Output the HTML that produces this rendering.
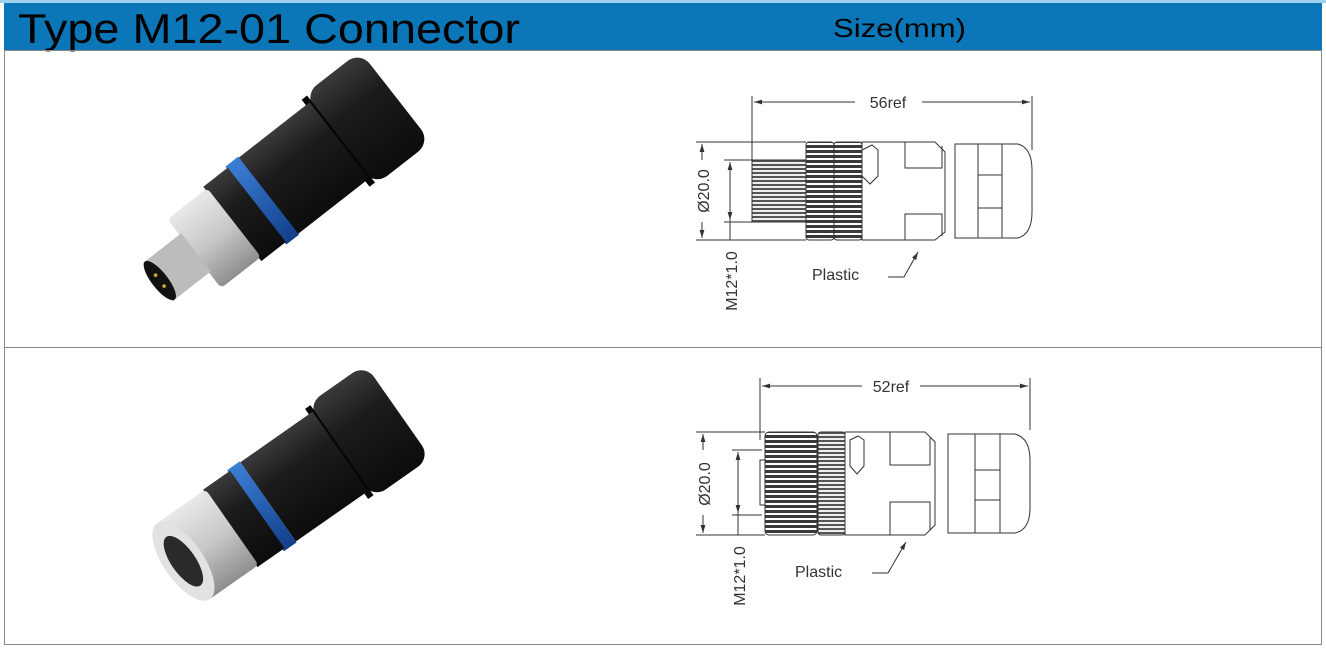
<!DOCTYPE html>
<html><head><meta charset="utf-8"><style>
html,body{margin:0;padding:0;background:#fff;}
body{width:1326px;height:650px;overflow:hidden;font-family:"Liberation Sans",sans-serif;}
</style></head><body>
<svg width="1326" height="650" viewBox="0 0 1326 650" xmlns="http://www.w3.org/2000/svg">
<defs>
<linearGradient id="blk" x1="0" y1="0" x2="0" y2="1"><stop offset="0" stop-color="#3a3a3c"/><stop offset="0.35" stop-color="#1c1c1e"/><stop offset="1" stop-color="#0c0c0c"/></linearGradient>
<linearGradient id="sil" x1="0" y1="0" x2="0" y2="1"><stop offset="0" stop-color="#e8e8e8"/><stop offset="0.5" stop-color="#c8c8c8"/><stop offset="1" stop-color="#8e8e8e"/></linearGradient>
<linearGradient id="blu" x1="0" y1="0" x2="0" y2="1"><stop offset="0" stop-color="#3c7fd6"/><stop offset="1" stop-color="#123f8a"/></linearGradient>
<pattern id="kn" width="6" height="4" patternUnits="userSpaceOnUse"><rect width="6" height="4" fill="#eee"/><rect y="0" width="6" height="2" fill="#555"/></pattern>
<pattern id="kn2" width="6" height="5" patternUnits="userSpaceOnUse"><rect width="6" height="5" fill="#fff"/><rect y="0" width="6" height="3" fill="#3a3a3a"/></pattern>
<marker id="ar" viewBox="0 0 10 10" refX="10" refY="5" markerWidth="8" markerHeight="8" orient="auto-start-reverse"><path d="M0,2 L10,5 L0,8 z" fill="#333"/></marker>
</defs>
<rect x="0" y="0" width="1326" height="3" fill="#9fd0ee"/>
<rect x="4" y="3" width="1318" height="47" fill="#0b77b8"/>
<text x="18" y="43" font-size="42" fill="#000" textLength="502" lengthAdjust="spacingAndGlyphs">Type M12-01 Connector</text>
<text x="833" y="37" font-size="26" fill="#000" textLength="133" lengthAdjust="spacingAndGlyphs">Size(mm)</text>
<rect x="4.5" y="50.5" width="1317" height="594" fill="none" stroke="#888" stroke-width="1"/>
<line x1="4" y1="347.5" x2="1322" y2="347.5" stroke="#888"/>

<g transform="translate(158,282) rotate(-38) scale(1.15)">
 <rect x="200" y="-50" width="62" height="100" rx="14" fill="url(#blk)"/>
 <rect x="196" y="-48" width="6" height="96" fill="#060606"/>
 <rect x="120" y="-42" width="80" height="84" fill="url(#blk)"/>
 <rect x="108" y="-43" width="14" height="86" fill="url(#blu)"/>
 <rect x="82" y="-41" width="27" height="82" fill="url(#blk)"/>
 <rect x="40" y="-38" width="44" height="76" rx="4" fill="url(#sil)"/>
 <rect x="0" y="-21" width="42" height="42" fill="#bcbcbc"/>
 <ellipse cx="2" cy="0" rx="7" ry="21" fill="#111"/>
 <circle cx="2" cy="-6" r="1.6" fill="#d4a830"/><circle cx="2" cy="6" r="1.6" fill="#d4a830"/>
</g>
<g transform="translate(178,565) rotate(-35) scale(1.1)">
 <rect x="180" y="-52" width="64" height="104" rx="14" fill="url(#blk)"/>
 <rect x="176" y="-50" width="6" height="100" fill="#060606"/>
 <rect x="100" y="-44" width="80" height="88" fill="url(#blk)"/>
 <rect x="86" y="-45" width="14" height="90" fill="url(#blu)"/>
 <rect x="58" y="-43" width="30" height="86" fill="url(#blk)"/>
 <rect x="4" y="-42" width="56" height="84" rx="4" fill="url(#sil)"/>
 <ellipse cx="6" cy="0" rx="18" ry="42" fill="#e2e2e2"/>
 <ellipse cx="6" cy="0" rx="11" ry="27" fill="#2a2a2a"/>
</g>

<g stroke="#333" fill="none" stroke-width="1">
 <line x1="752" y1="96" x2="752" y2="160"/><line x1="1032" y1="96" x2="1032" y2="150"/>
 <line x1="754" y1="102" x2="855" y2="102" marker-start="url(#ar)"/><line x1="922" y1="102" x2="1030" y2="102" marker-end="url(#ar)"/>
 <line x1="696" y1="142" x2="806" y2="142"/><line x1="696" y1="240" x2="806" y2="240"/>
 <line x1="702" y1="144" x2="702" y2="160" marker-start="url(#ar)"/><line x1="702" y1="222" x2="702" y2="238" marker-end="url(#ar)"/>
 <line x1="724" y1="160" x2="760" y2="160"/><line x1="724" y1="222" x2="760" y2="222"/>
 <line x1="730" y1="162" x2="730" y2="220" marker-start="url(#ar)" marker-end="url(#ar)"/>
 <line x1="730" y1="220" x2="730" y2="240"/>
 <rect x="752" y="160" width="54" height="62" fill="url(#kn)"/>
 <rect x="806" y="142" width="28" height="98" rx="3" fill="url(#kn2)"/>
 <rect x="834" y="142" width="28" height="98" rx="3" fill="url(#kn2)"/>
 <path d="M862 142 H935 L945 152 V232 L935 240 H862 Z" fill="#fff"/>
 <path d="M862 150 L872 145 L878 150 V176 L870 184 L862 176 Z" fill="#fff"/>
 <path d="M905 142 V168 H942 V146"/><path d="M905 240 V214 H942 V236"/>
 <path d="M955 144 H1018 Q1032 148 1032 170 V212 Q1032 234 1018 238 H955 Z" fill="#fff"/>
 <line x1="978" y1="144" x2="978" y2="238"/><line x1="1002" y1="144" x2="1002" y2="238"/>
 <line x1="978" y1="175" x2="1002" y2="175"/><line x1="978" y1="208" x2="1002" y2="208"/>
 <path d="M888 277 H904 L918 252" marker-end="url(#ar)"/>
</g>
<text x="812" y="280" font-size="16" fill="#333">Plastic</text>
<text transform="translate(709,191) rotate(-90)" text-anchor="middle" font-size="16" fill="#333">Ø20.0</text>
<text transform="translate(737,281) rotate(-90)" text-anchor="middle" font-size="16" fill="#333">M12*1.0</text>
<text x="888" y="108" text-anchor="middle" font-size="16" fill="#333">56ref</text>

<g stroke="#333" fill="none" stroke-width="1">
 <line x1="760" y1="378" x2="760" y2="440"/><line x1="1030" y1="378" x2="1030" y2="430"/>
 <line x1="762" y1="386" x2="862" y2="386" marker-start="url(#ar)"/><line x1="920" y1="386" x2="1028" y2="386" marker-end="url(#ar)"/>
 <line x1="696" y1="432" x2="765" y2="432"/><line x1="696" y1="535" x2="765" y2="535"/>
 <line x1="703" y1="434" x2="703" y2="450" marker-start="url(#ar)"/><line x1="703" y1="515" x2="703" y2="533" marker-end="url(#ar)"/>
 <line x1="732" y1="450" x2="762" y2="450"/><line x1="732" y1="515" x2="762" y2="515"/>
 <line x1="738" y1="452" x2="738" y2="513" marker-start="url(#ar)" marker-end="url(#ar)"/>
 <line x1="738" y1="513" x2="738" y2="535"/>
 <rect x="760" y="460" width="6" height="45" fill="#fff"/>
 <rect x="765" y="432" width="52" height="103" rx="4" fill="url(#kn2)"/>
 <rect x="818" y="432" width="27" height="103" rx="3" fill="url(#kn)"/>
 <path d="M845 432 H925 L935 442 V525 L925 535 H845 Z" fill="#fff"/>
 <path d="M850 440 L858 436 L864 440 V466 L857 474 L850 466 Z" fill="#fff"/>
 <path d="M890 432 V465 H930 V438"/><path d="M890 535 V502 H930 V530"/>
 <path d="M948 434 H1015 Q1030 438 1030 460 V508 Q1030 530 1015 533 H948 Z" fill="#fff"/>
 <line x1="975" y1="434" x2="975" y2="533"/><line x1="1000" y1="434" x2="1000" y2="533"/>
 <line x1="975" y1="470" x2="1000" y2="470"/><line x1="975" y1="500" x2="1000" y2="500"/>
 <path d="M872 573 H888 L906 542" marker-end="url(#ar)"/>
</g>
<text x="795" y="577" font-size="16" fill="#333">Plastic</text>
<text transform="translate(710,484) rotate(-90)" text-anchor="middle" font-size="16" fill="#333">Ø20.0</text>
<text transform="translate(745,576) rotate(-90)" text-anchor="middle" font-size="16" fill="#333">M12*1.0</text>
<text x="891" y="392" text-anchor="middle" font-size="16" fill="#333">52ref</text>
</svg>
</body></html>
